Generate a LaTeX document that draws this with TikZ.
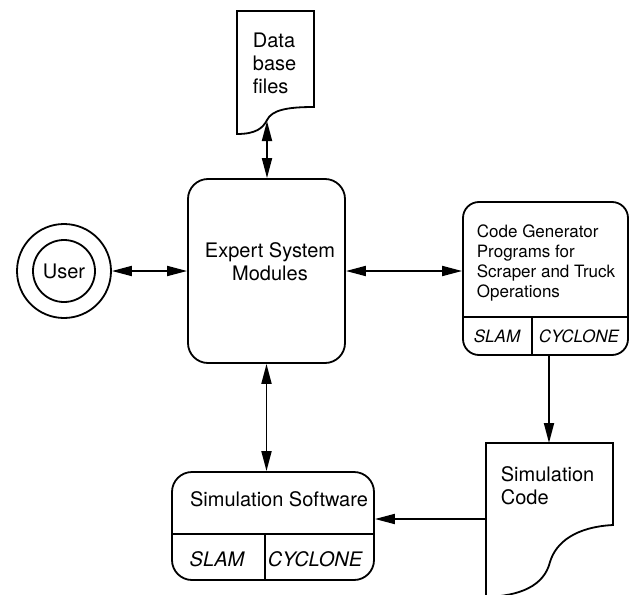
\documentclass[tikz,border=0pt]{standalone}
\usepackage{fontspec}
\setmainfont{TeX Gyre Heros}
\usetikzlibrary{arrows.meta}

\tikzset{
    box/.style={draw,rounded corners=10pt,inner sep=0pt},
    lbl/.style={inner sep=0pt,font=\fontsize{10}{11.5}\selectfont},
    lblit/.style={inner sep=0pt,font=\fontsize{10}{11.5}\selectfont\itshape},
    small/.style={inner sep=0pt,font=\fontsize{8.5}{10}\selectfont},
    smallit/.style={inner sep=0pt,font=\fontsize{8.5}{10}\selectfont\itshape},
    link/.style={-{Triangle[length=10pt,width=5pt]}},
    both/.style={{Triangle[length=10pt,width=5pt]}-{Triangle[length=10pt,width=5pt]}}
}

\begin{document}
\begin{tikzpicture}[x=0.5pt,y=-0.5pt,line width=0.9pt]
    \fill[white] (0,0) rectangle (633,595);
    \useasboundingbox (0,0) rectangle (633,595);

    % Expert system in the middle
    \node[box,minimum width=78.5pt,minimum height=92pt] (expert) at (266.5,271) {};
    \node[lbl,align=center] (experttxt) at (270,262) {Expert System\\Modules};

    % User: two rings
    \node[draw,circle,minimum size=47pt,inner sep=0pt] (userring) at (64,271) {};
    \node[draw,circle,lbl,minimum size=31pt] (user) at (64,271) {User};

    % Data base files (document, wavy bottom)
    \draw (237,134) .. controls (256,134) and (263,128) .. (267,120)
        .. controls (272,110) and (287,107) .. (314,107) -- (314,11) -- (237,11) -- cycle;
    \node[lbl,anchor=west,align=left] (data) at (252,63) {Data\\base\\files};
    \coordinate (datab) at (267,121);

    % Code generator with its two parts
    \node[box,rounded corners=8pt,minimum width=82.5pt,minimum height=76.5pt] (codegen) at (545.5,278.5) {};
    \draw (463,317) -- (628,317);
    \draw (532,317) -- (532,355);
    \node[small,anchor=west,align=left] (cgtxt) at (476,263) {Code Generator\\Programs for\\Scraper and Truck\\Operations};
    \node[smallit] (cgslam) at (497,336) {SLAM};
    \node[smallit] (cgcyc) at (579,336) {CYCLONE};

    % Simulation code (document, wavy bottom)
    \draw (486,600) -- (486,443) -- (613,443) -- (613,525)
        .. controls (576,527) and (556,542) .. (550,562)
        .. controls (544,586) and (520,596) .. (486,597);
    \node[lbl,anchor=west,align=left] (simcode) at (500,486) {Simulation\\Code};
    \coordinate (simtop) at (549,443);
    \coordinate (simleft) at (486,519);

    % Simulation software with its two parts
    \node[box,minimum width=101pt,minimum height=54pt] (simsoft) at (273,526) {};
    \draw (172,534) -- (374,534);
    \draw (265,534) -- (265,580);
    \node[lbl] (sstxt) at (279,499) {Simulation Software};
    \node[lblit] (ssslam) at (217,559) {SLAM};
    \node[lblit] (sscyc) at (315,559) {CYCLONE};

    % Connectors
    \draw[both] (userring.east) -- (userring.east -| expert.west);
    \draw[both] (datab) -- (datab |- expert.north);
    \draw[both] (expert.east) -- (expert.east -| codegen.west);
    \draw[both] (expert.south) -- (expert.south |- simsoft.north);
    \draw[link] (simtop |- codegen.south) -- (simtop);
    \draw[link] (simleft) -- (simleft -| simsoft.east);
\end{tikzpicture}
\end{document}
